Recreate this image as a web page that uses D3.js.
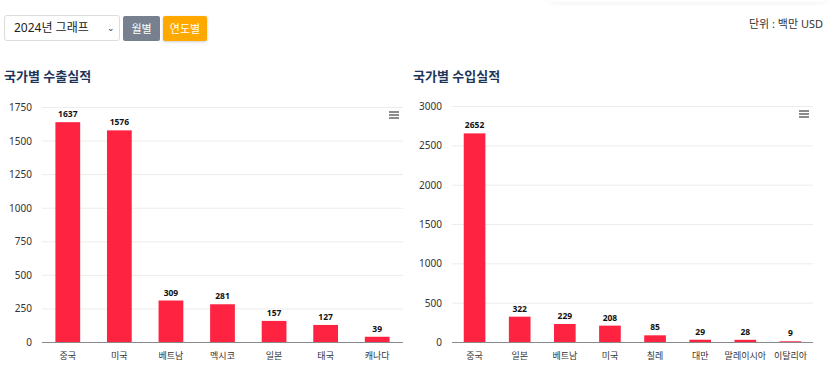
<!DOCTYPE html>
<html lang="ko">
<head>
<meta charset="utf-8">
<script src="https://cdn.jsdelivr.net/npm/d3@7"></script>
<style>
  body { margin: 0; width: 830px; height: 365px; background: #fff; overflow: hidden;
         font-family: "Noto Sans", "Noto Sans CJK KR", sans-serif; position: relative; }
  .topbar { position: absolute; left: 550px; top: -6px; width: 275px; height: 8px;
            box-shadow: 0 1px 5px rgba(0,0,0,0.06); }
  .sel { position: absolute; left: 4px; top: 15px; width: 116px; height: 26px; box-sizing: border-box;
         border: 1px solid #dcdcdc; border-radius: 3px; font-size: 12px; color: #222;
         line-height: 24px; padding-left: 9px; }
  .sel .chev { position: absolute; right: 4px; top: 0; font-size: 9px; color: #333; }
  .btn { position: absolute; top: 16px; height: 25px; line-height: 25px; border-radius: 2px;
         color: #fff; font-size: 11px; text-align: center; }
  .b1 { left: 123px; width: 37px; background: #76808f; }
  .b2 { left: 163px; width: 44px; background: #ffa800; box-shadow: 0 1px 3px rgba(0,0,0,0.2); }
  .unit { position: absolute; right: 7px; top: 15px; font-size: 11px; color: #333; }
  .title { position: absolute; top: 66px; font-size: 13px; font-weight: bold; color: #1d3559; }
  svg { position: absolute; top: 0; left: 0; }
</style>
</head>
<body>
<div class="topbar"></div>
<div class="sel">2024년 그래프<span class="chev">&#8964;</span></div>
<div class="btn b1">월별</div>
<div class="btn b2">연도별</div>
<div class="unit">단위 : 백만 USD</div>
<div class="title" style="left:4px">국가별 수출실적</div>
<div class="title" style="left:413px">국가별 수입실적</div>
<svg id="chart" width="830" height="365"></svg>
<script>
// 수출 데이터
const exportCountries = ["중국", "미국", "베트남", "멕시코", "일본", "태국", "캐나다"];
const exportValues = [1637, 1576, 309, 281, 157, 127, 39];
const exportTicks = [0, 250, 500, 750, 1000, 1250, 1500, 1750];

// 수입 데이터
const importCountries = ["중국", "일본", "베트남", "미국", "칠레", "대만", "말레이시아", "이탈리아"];
const importValues = [2652, 322, 229, 208, 85, 29, 28, 9];
const importTicks = [0, 500, 1000, 1500, 2000, 2500, 3000];

const svg = d3.select("#chart");

function drawBars(cfg) {
  const g = svg.append("g");
  const x = d3.scaleBand().domain(cfg.cats).range([cfg.left, cfg.right]).padding(0);
  const y = d3.scaleLinear().domain([0, d3.max(cfg.ticks)]).range([cfg.bottom, cfg.top]);
  const bw = x.bandwidth() * 0.48;

  // 격자선
  g.append("g").selectAll("line").data(cfg.ticks.filter(t => t > 0)).join("line")
    .attr("x1", cfg.left).attr("x2", cfg.right)
    .attr("y1", d => y(d) + 0.5).attr("y2", d => y(d) + 0.5)
    .attr("stroke", "#ececec");

  // y축 라벨
  g.append("g").selectAll("text").data(cfg.ticks).join("text")
    .attr("x", cfg.left - 10).attr("y", d => y(d) + 4)
    .attr("text-anchor", "end").attr("font-size", 10).attr("fill", "#333")
    .text(d => d);

  // 막대
  g.append("g").selectAll("rect").data(cfg.vals).join("rect")
    .attr("x", (d, i) => x(cfg.cats[i]) + (x.bandwidth() - bw) / 2)
    .attr("y", d => y(d))
    .attr("width", bw)
    .attr("height", d => cfg.bottom - y(d))
    .attr("fill", "#fe2340");

  // x축 선
  g.append("line")
    .attr("x1", cfg.left).attr("x2", cfg.right)
    .attr("y1", cfg.bottom + 0.5).attr("y2", cfg.bottom + 0.5)
    .attr("stroke", "#8a8a8a");

  // x축 라벨
  g.append("g").selectAll("text").data(cfg.cats).join("text")
    .attr("x", d => x(d) + x.bandwidth() / 2).attr("y", cfg.bottom + 17)
    .attr("text-anchor", "middle").attr("font-size", 9).attr("fill", "#333")
    .text(d => d);

  // 값 라벨
  g.append("g").selectAll("text").data(cfg.vals).join("text")
    .attr("x", (d, i) => x(cfg.cats[i]) + x.bandwidth() / 2).attr("y", d => y(d) - 5)
    .attr("text-anchor", "middle").attr("font-size", 8.5).attr("font-weight", "bold")
    .attr("fill", "#111").attr("stroke", "#fff").attr("stroke-width", 2)
    .attr("paint-order", "stroke")
    .text(d => d);

  // 메뉴 아이콘
  const mx = cfg.right - 14, my = cfg.top + 5;
  g.append("g").selectAll("line").data([0, 3, 6]).join("line")
    .attr("x1", mx).attr("x2", mx + 10)
    .attr("y1", d => my + d).attr("y2", d => my + d)
    .attr("stroke", "#666").attr("stroke-width", 1.5);
}

drawBars({ cats: exportCountries, vals: exportValues, ticks: exportTicks,
           left: 42, right: 403, top: 107, bottom: 342 });
drawBars({ cats: importCountries, vals: importValues, ticks: importTicks,
           left: 452, right: 813, top: 106, bottom: 342 });
</script>
</body>
</html>
